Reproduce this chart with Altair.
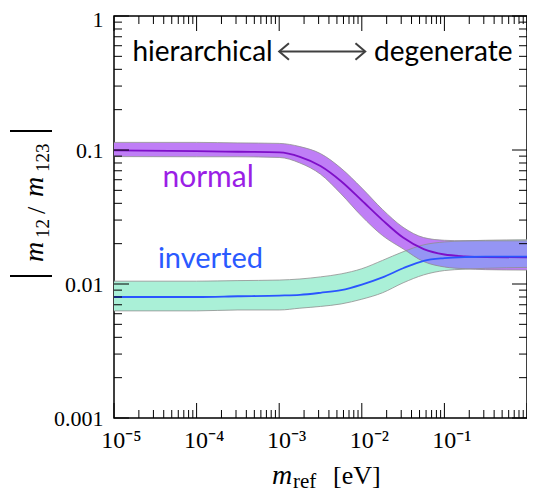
import altair as alt
import numpy as np
import pandas as pd

# ---- data ----
m_ref = [1e-5, 1e-4, 3.16e-4, 1e-3, 1.78e-3, 3.16e-3, 5.62e-3, 1e-2,
         1.78e-2, 3.16e-2, 5.62e-2, 1e-1, 0.178, 0.316, 1.0]

normal_mid = [0.0995, 0.098, 0.097, 0.096, 0.089, 0.076, 0.0585, 0.042,
              0.030, 0.0222, 0.0182, 0.0166, 0.0161, 0.0159, 0.0158]
normal_hi = [0.114, 0.114, 0.113, 0.112, 0.106, 0.094, 0.073, 0.052,
             0.036, 0.0265, 0.0222, 0.0212, 0.0210, 0.0210, 0.0210]
normal_lo = [0.0893, 0.089, 0.089, 0.088, 0.080, 0.066, 0.047, 0.032,
             0.0230, 0.0183, 0.0147, 0.0134, 0.0130, 0.0128, 0.0127]

inv_mid = [0.0080, 0.0080, 0.0081, 0.0082, 0.0083, 0.0086, 0.0090, 0.0099,
           0.0112, 0.0131, 0.0149, 0.0156, 0.0159, 0.0160, 0.0160]
inv_hi = [0.0105, 0.0105, 0.0106, 0.0107, 0.0109, 0.0113, 0.0119, 0.0130,
          0.0150, 0.0174, 0.0196, 0.0206, 0.0210, 0.0212, 0.0214]
inv_lo = [0.0063, 0.0063, 0.0064, 0.0064, 0.0066, 0.0068, 0.0071, 0.0077,
          0.0086, 0.0102, 0.0117, 0.0126, 0.0129, 0.0131, 0.0133]

x_tick_values = [1e-5, 1e-4, 1e-3, 1e-2, 1e-1, 1.0]
y_tick_values = [1e-3, 1e-2, 1e-1, 1.0]

# ---- tables ----
band = pd.DataFrame({"m": m_ref, "n_mid": normal_mid, "n_hi": normal_hi, "n_lo": normal_lo,
                     "i_mid": inv_mid, "i_hi": inv_hi, "i_lo": inv_lo})

# overlap of the two bands (intersection of the two ranges)
lx = np.log10(m_ref)
olo = np.maximum(np.log10(normal_lo), np.log10(inv_lo))
ohi = np.minimum(np.log10(normal_hi), np.log10(inv_hi))
d = ohi - olo
rows = []
for i in range(len(lx)):
    if i > 0 and (d[i - 1] < 0) != (d[i] < 0):
        t = d[i - 1] / (d[i - 1] - d[i])
        xc = lx[i - 1] + t * (lx[i] - lx[i - 1])
        yc = olo[i - 1] + t * (olo[i] - olo[i - 1])
        rows.append({"m": 10 ** xc, "lo": 10 ** yc, "hi": 10 ** yc})
    if d[i] >= 0:
        rows.append({"m": 10 ** lx[i], "lo": 10 ** olo[i], "hi": 10 ** ohi[i]})
overlap = pd.DataFrame(rows)

x_minor = [k * 10.0 ** e for e in range(-5, 0) for k in range(2, 10)]
y_minor = [k * 10.0 ** e for e in range(-3, 0) for k in range(2, 10)]
xt = pd.DataFrame({"v": x_tick_values + x_minor,
                   "major": [True] * len(x_tick_values) + [False] * len(x_minor)})
yt = pd.DataFrame({"v": y_tick_values + y_minor,
                   "major": [True] * len(y_tick_values) + [False] * len(y_minor)})
one = pd.DataFrame({"k": [0]})

W, H = 413, 402
xs = alt.Scale(type="log", domain=[1e-5, 1], nice=False)
ys = alt.Scale(type="log", domain=[1e-3, 1], nice=False)

SERIF = "Liberation Serif"
SANS = "Lato"

xaxis = alt.Axis(values=x_tick_values, title=None, ticks=False, domain=False, grid=False,
                 labelExpr="datum.value >= 1 ? '1\u2002' : '10' + ['\u207b\u2075','\u207b\u2074','\u207b\u00b3','\u207b\u00b2','\u207b\u00b9'][round(log(datum.value)/LN10) + 5]",
                 labelFont=SERIF, labelFontSize=24, labelColor="black", labelPadding=10,
                 labelOffset=7, labelBaseline="top", labelFlush=False, labelOverlap=False)
yaxis = alt.Axis(values=y_tick_values, title=None, ticks=False, domain=False, grid=False,
                 format="~g", labelFont=SERIF, labelFontSize=22, labelColor="black",
                 labelPadding=11, labelFlush=False, labelOverlap=False,
                 labelOffset={"condition": {"test": "datum.value >= 1", "value": 3}, "value": 0})


def XF(field):
    return alt.X(field, type="quantitative", scale=xs, axis=xaxis)


def YF(field):
    return alt.Y(field, type="quantitative", scale=ys, axis=yaxis)


def XD(v):
    return alt.X(datum=v, type="quantitative", scale=xs, axis=xaxis)


def YD(v):
    return alt.Y(datum=v, type="quantitative", scale=ys, axis=yaxis)


base = alt.Chart(band)

inv_band = base.mark_area(color="#aaf0d7", interpolate="monotone").encode(
    x=XF("m"), y=YF("i_lo"), y2="i_hi:Q")
nor_band = base.mark_area(color="#bf7ef6", interpolate="monotone").encode(
    x=XF("m"), y=YF("n_lo"), y2="n_hi:Q")
ov_band = alt.Chart(overlap).mark_area(color="#9595f4", interpolate="monotone").encode(
    x=XF("m"), y=YF("lo"), y2="hi:Q")
edges = base.transform_fold(["n_lo", "n_hi", "i_lo", "i_hi"], as_=["k", "val"]).mark_line(
    color="#8f8f8f", strokeWidth=0.8, interpolate="monotone").encode(
    x=XF("m"), y=YF("val"), detail="k:N")
nor_line = base.mark_line(color="#7e0fc8", strokeWidth=1.8, interpolate="monotone").encode(
    x=XF("m"), y=YF("n_mid"))
inv_line = base.mark_line(color="#2a55ff", strokeWidth=1.8, interpolate="monotone").encode(
    x=XF("m"), y=YF("i_mid"))


def dtext(txt, xv, yv, color, align="left", size=29):
    return alt.Chart(one).mark_text(text=txt, font=SANS, fontSize=size, color=color,
                                    align=align, baseline="alphabetic").encode(
        x=XD(xv), y=YD(yv))


t_hier = dtext("hierarchical", 1.18e-4, 0.46, "black", "center", 28)
t_deg = dtext("degenerate", 0.097, 0.46, "black", "center", 28)
t_norm = dtext("normal", 3.86e-5, 0.0531, "#9b1ee6", "left", 30)
t_inv = dtext("inverted", 3.4e-5, 0.0131, "#2a5aff", "left", 29)

ARROW = "#404040"
shaft = alt.Chart(one).mark_rule(color=ARROW, strokeWidth=2).encode(
    x=XD(1.02e-3), x2=alt.X2(datum=1.08e-2), y=YD(0.543))
head_shape = "M-1,-0.85L0,0L-1,0.85"
head_r = alt.Chart(one).mark_point(shape=head_shape, filled=False, size=380, strokeWidth=2,
                                   color=ARROW, opacity=1).encode(x=XD(1.1e-2), y=YD(0.543))
head_l = alt.Chart(one).mark_point(shape=head_shape, filled=False, size=380, strokeWidth=2,
                                   color=ARROW, opacity=1, angle=180).encode(x=XD(1.0e-3), y=YD(0.543))

# inward ticks on all four sides
tick_layers = []
for major, L in [(True, 15), (False, 8)]:
    flt = "datum.major" if major else "!datum.major"
    cx = alt.Chart(xt).transform_filter(flt).mark_rule(color="black", strokeWidth=1)
    cy = alt.Chart(yt).transform_filter(flt).mark_rule(color="black", strokeWidth=1)
    tick_layers += [
        cx.encode(x=XF("v"), y=alt.value(0), y2=alt.value(L)),
        cx.encode(x=XF("v"), y=alt.value(H), y2=alt.value(H - L)),
        cy.encode(y=YF("v"), x=alt.value(0), x2=alt.value(L)),
        cy.encode(y=YF("v"), x=alt.value(W), x2=alt.value(W - L)),
    ]


def ptext(txt, px, py, size, style="normal", angle=0, font=SERIF):
    kw = dict(text=txt, font=font, fontSize=size, fontStyle=style, color="black",
              align="left", baseline="alphabetic")
    if angle:
        kw["angle"] = angle
    return alt.Chart(one).mark_text(**kw).encode(x=alt.value(px), y=alt.value(py))


# x axis title: m_ref [eV]
xt1 = ptext("m", 158, 468, 28, "italic")
xt2 = ptext("ref", 179, 472, 21)
xt3 = ptext("[eV]", 219, 468, 26)

# y axis title: |m12 / m123|
yt1 = ptext("m", -71, 246, 28, "italic", 270)
yt2 = ptext("12", -65, 222, 19, "normal", 270)
yt3 = ptext("/", -69, 198, 26, "normal", 270)
yt4 = ptext("m", -71, 181, 28, "italic", 270)
yt5 = ptext("123", -65, 156, 19, "normal", 270)
bar1 = alt.Chart(one).mark_rect(color="black").encode(
    x=alt.value(-104), x2=alt.value(-62), y=alt.value(259), y2=alt.value(261))
bar2 = alt.Chart(one).mark_rect(color="black").encode(
    x=alt.value(-104), x2=alt.value(-62), y=alt.value(114), y2=alt.value(116))

chart = alt.layer(
    inv_band, nor_band, ov_band, edges, nor_line, inv_line,
    t_hier, t_deg, t_norm, t_inv, shaft, head_r, head_l,
    *tick_layers, xt1, xt2, xt3, yt1, yt2, yt3, yt4, yt5, bar1, bar2,
).properties(
    width=W, height=H,
    autosize=alt.AutoSizeParams(type="none"),
    padding={"left": 106, "top": 8, "right": 0, "bottom": 74},
).configure_view(stroke="black", strokeWidth=1.5)

chart.save("out.html", embed_options={"renderer": "svg", "actions": False})
